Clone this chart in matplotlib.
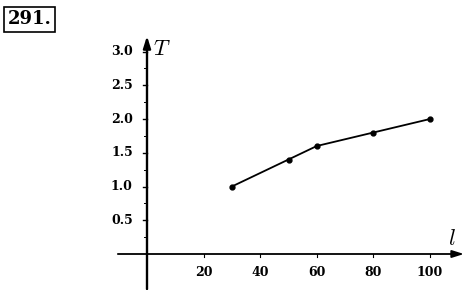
import matplotlib
matplotlib.use("Agg")
import matplotlib.pyplot as plt

plt.rcParams["mathtext.fontset"] = "cm"

# data
lengths = [30, 50, 60, 80, 100]
periods = [1.0, 1.4, 1.6, 1.8, 2.0]
x_ticks = [20, 40, 60, 80, 100]
y_ticks = [0.5, 1.0, 1.5, 2.0, 2.5, 3.0]
y_minor = [0.25, 0.75, 1.25, 1.75, 2.25, 2.75]

# pixel geometry of the reference (origin at px 147, 254)
W, H = 467, 290
X0, Y0 = 147, 254
SX, SY = 2.83, 67.5

fig = plt.figure(figsize=(W / 100, H / 100), dpi=100)
ax = fig.add_axes([0, 0, 1, 1])
ax.set_xlim(-X0 / SX, (W - X0) / SX)
ax.set_ylim(-(H - Y0) / SY, Y0 / SY)
ax.axis("off")

tick_font = dict(family="DejaVu Serif", fontweight="bold", fontsize=9)

# axes with arrows
ax.annotate("", xy=(112, 0), xytext=(-10.3, 0),
            arrowprops=dict(arrowstyle="-|>,head_length=0.7,head_width=0.22",
                            color="black", lw=1.3, shrinkA=0, shrinkB=0))
ax.annotate("", xy=(0, 3.23), xytext=(0, -0.52),
            arrowprops=dict(arrowstyle="-|>,head_length=0.7,head_width=0.22",
                            color="black", lw=1.7, shrinkA=0, shrinkB=0))

# ticks
for t in y_ticks:
    ax.plot([-1.3, 0], [t, t], color="black", lw=1.0)
    ax.text(-5.0, t, f"{t:.1f}", ha="right", va="center", **tick_font)
for t in y_minor:
    ax.plot([-0.9, 0], [t, t], color="black", lw=0.7)
for t in x_ticks:
    ax.plot([t, t], [0, -0.04], color="black", lw=0.8)
    ax.text(t, -0.27, str(t), ha="center", va="center", **tick_font)

ax.text(2.2, 3.03, "$T$", fontsize=16, ha="left", va="center")
ax.text(107.8, 0.22, "$l$", fontsize=16, ha="center", va="center")

# data line
ax.plot(lengths, periods, color="black", lw=1.3, marker="o", markersize=3.5)

# problem number in a box
fig.text(0.017, 0.965, "291.", fontsize=13, fontweight="bold",
         family="DejaVu Serif", ha="left", va="top",
         bbox=dict(boxstyle="square,pad=0.2", fc="white", ec="black", lw=1.2))

fig.savefig("out.png", dpi=100)
